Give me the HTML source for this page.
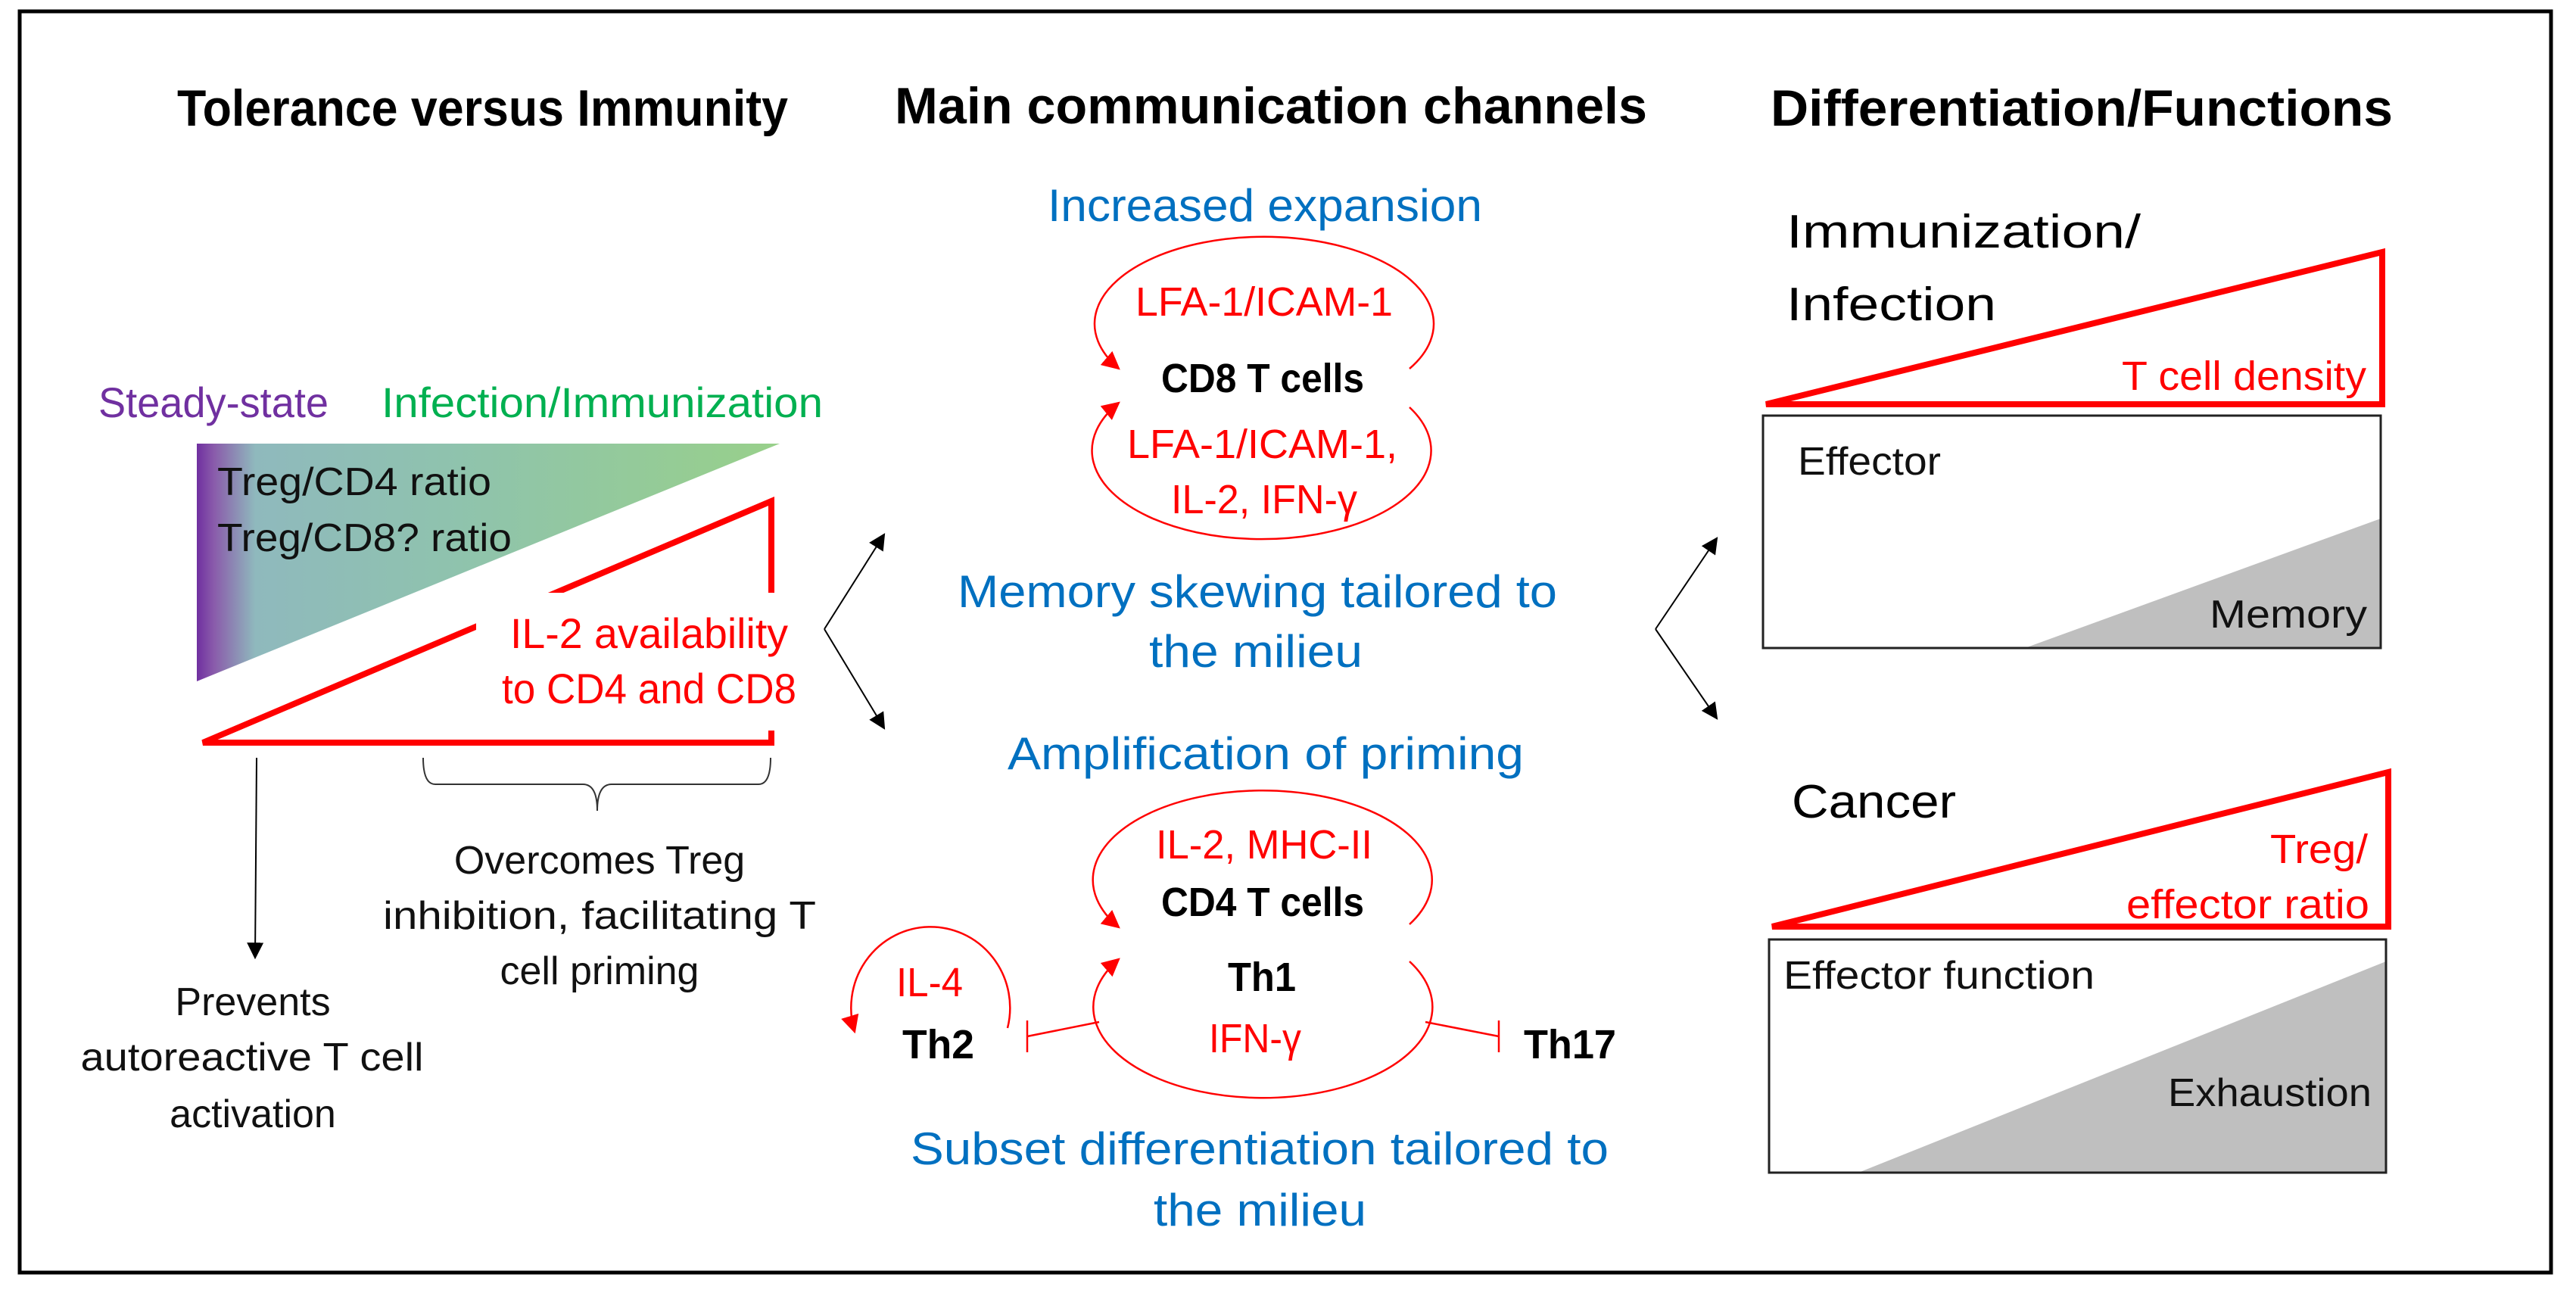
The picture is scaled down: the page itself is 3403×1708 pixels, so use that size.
<!DOCTYPE html>
<html><head><meta charset="utf-8"><style>
html,body{margin:0;padding:0;background:#fff;}
svg{display:block;}
text{font-family:"Liberation Sans",sans-serif;}
</style></head><body>
<svg width="3403" height="1708" viewBox="0 0 3403 1708" xmlns="http://www.w3.org/2000/svg">
<defs>
<linearGradient id="g" x1="260" y1="0" x2="1030" y2="0" gradientUnits="userSpaceOnUse">
<stop offset="0" stop-color="#7030a0"/>
<stop offset="0.03" stop-color="#8a5cab"/>
<stop offset="0.10" stop-color="#8fb9bd"/>
<stop offset="0.45" stop-color="#8fc3ad"/>
<stop offset="1" stop-color="#98d08a"/>
</linearGradient>
<marker id="ak" viewBox="0 0 10 10" refX="9" refY="5" markerWidth="22" markerHeight="22" orient="auto" markerUnits="userSpaceOnUse"><path d="M0,0 L10,5 L0,10 z" fill="#000"/></marker>
<marker id="ar" viewBox="0 0 10 10" refX="9" refY="5" markerWidth="24" markerHeight="24" orient="auto" markerUnits="userSpaceOnUse"><path d="M0,0 L10,5 L0,10 z" fill="#ff0000"/></marker>
</defs>

<rect x="26" y="15" width="3344" height="1666" fill="none" stroke="#000" stroke-width="5"/>

<g font-weight="bold" font-size="68" fill="#000">
<text x="234" y="166" textLength="807" lengthAdjust="spacingAndGlyphs">Tolerance versus Immunity</text>
<text x="1182" y="163" textLength="994" lengthAdjust="spacingAndGlyphs">Main communication channels</text>
<text x="2339" y="166" textLength="822" lengthAdjust="spacingAndGlyphs">Differentiation/Functions</text>
</g>

<text x="130" y="551" font-size="56" fill="#7030a0" textLength="304" lengthAdjust="spacingAndGlyphs">Steady-state</text>
<text x="504" y="551" font-size="56" fill="#00b050" textLength="583" lengthAdjust="spacingAndGlyphs">Infection/Immunization</text>
<polygon points="260,586 1030,586 260,900" fill="url(#g)"/>
<text x="287" y="654" font-size="52" fill="#111" textLength="362" lengthAdjust="spacingAndGlyphs">Treg/CD4 ratio</text>
<text x="287" y="728" font-size="52" fill="#111" textLength="389" lengthAdjust="spacingAndGlyphs">Treg/CD8? ratio</text>
<polygon points="268,981 1019,981 1019,662" fill="none" stroke="#ff0000" stroke-width="8"/>
<rect x="629" y="783" width="404" height="182" fill="#fff"/>
<text x="674" y="856" font-size="56" fill="#ff0000" textLength="367" lengthAdjust="spacingAndGlyphs">IL-2 availability</text>
<text x="663" y="929" font-size="56" fill="#ff0000" textLength="389" lengthAdjust="spacingAndGlyphs">to CD4 and CD8</text>
<line x1="339" y1="1001" x2="337" y2="1265" stroke="#000" stroke-width="2" marker-end="url(#ak)"/>
<path d="M559,1001 Q559,1036 575,1036 L770,1036 Q789,1036 789,1071 Q789,1036 808,1036 L1002,1036 Q1018,1036 1018,1001" fill="none" stroke="#333" stroke-width="2"/>
<g font-size="52" fill="#111" text-anchor="middle">
<text x="792" y="1154">Overcomes Treg</text>
<text x="792" y="1227" textLength="572" lengthAdjust="spacingAndGlyphs">inhibition, facilitating T</text>
<text x="792" y="1300">cell priming</text>
<text x="334" y="1341">Prevents</text>
<text x="333" y="1414" textLength="453" lengthAdjust="spacingAndGlyphs">autoreactive T cell</text>
<text x="334" y="1489">activation</text>
</g>

<line x1="1089" y1="831" x2="1168" y2="706" stroke="#000" stroke-width="2" marker-end="url(#ak)"/>
<line x1="1089" y1="831" x2="1168" y2="962" stroke="#000" stroke-width="2" marker-end="url(#ak)"/>
<line x1="2187" y1="831" x2="2268" y2="711" stroke="#000" stroke-width="2" marker-end="url(#ak)"/>
<line x1="2187" y1="831" x2="2268" y2="949" stroke="#000" stroke-width="2" marker-end="url(#ak)"/>

<g font-size="60" fill="#0070c0">
<text x="1384" y="292" textLength="574" lengthAdjust="spacingAndGlyphs">Increased expansion</text>
<text x="1265" y="802" textLength="792" lengthAdjust="spacingAndGlyphs">Memory skewing tailored to</text>
<text x="1518" y="881" textLength="282" lengthAdjust="spacingAndGlyphs">the milieu</text>
<text x="1331" y="1016" textLength="682" lengthAdjust="spacingAndGlyphs">Amplification of priming</text>
<text x="1203" y="1538" textLength="922" lengthAdjust="spacingAndGlyphs">Subset differentiation tailored to</text>
<text x="1524" y="1619" textLength="281" lengthAdjust="spacingAndGlyphs">the milieu</text>
</g>
<g fill="none" stroke="#ff0000" stroke-width="2.5">
<path d="M1862,487 A224,115 0 1 0 1478,487" marker-end="url(#ar)"/>
<path d="M1862,538 A224,117 0 1 1 1478,532" marker-end="url(#ar)"/>
<path d="M1862,1221 A224,118 0 1 0 1478,1225" marker-end="url(#ar)"/>
<path d="M1862,1270 A224,120 0 1 1 1478,1267" marker-end="url(#ar)"/>
<path d="M1331,1358 A105,107 0 1 0 1129,1363" marker-end="url(#ar)"/>
<line x1="1452" y1="1350" x2="1357" y2="1369"/>
<line x1="1357" y1="1348" x2="1357" y2="1390"/>
<line x1="1883" y1="1350" x2="1980" y2="1369"/>
<line x1="1980" y1="1348" x2="1980" y2="1390"/>
</g>
<g font-size="54" fill="#ff0000">
<text x="1500" y="417" textLength="340" lengthAdjust="spacingAndGlyphs">LFA-1/ICAM-1</text>
<text x="1489" y="605" textLength="357" lengthAdjust="spacingAndGlyphs">LFA-1/ICAM-1,</text>
<text x="1547" y="678" textLength="246" lengthAdjust="spacingAndGlyphs">IL-2, IFN-γ</text>
<text x="1527" y="1134" textLength="286" lengthAdjust="spacingAndGlyphs">IL-2, MHC-II</text>
<text x="1597" y="1390" textLength="122" lengthAdjust="spacingAndGlyphs">IFN-γ</text>
<text x="1184" y="1316" textLength="88" lengthAdjust="spacingAndGlyphs">IL-4</text>
</g>
<g font-size="54" font-weight="bold" fill="#000">
<text x="1534" y="518" textLength="268" lengthAdjust="spacingAndGlyphs">CD8 T cells</text>
<text x="1534" y="1210" textLength="268" lengthAdjust="spacingAndGlyphs">CD4 T cells</text>
<text x="1622" y="1309" textLength="90" lengthAdjust="spacingAndGlyphs">Th1</text>
<text x="1192" y="1398" textLength="95" lengthAdjust="spacingAndGlyphs">Th2</text>
<text x="2013" y="1398" textLength="122" lengthAdjust="spacingAndGlyphs">Th17</text>
</g>

<g font-size="62" fill="#000">
<text x="2360" y="327" textLength="468" lengthAdjust="spacingAndGlyphs">Immunization/</text>
<text x="2360" y="423" textLength="277" lengthAdjust="spacingAndGlyphs">Infection</text>
<text x="2367" y="1080" textLength="217" lengthAdjust="spacingAndGlyphs">Cancer</text>
</g>
<polygon points="2333,534 3147,534 3147,333" fill="none" stroke="#ff0000" stroke-width="8"/>
<polygon points="2341,1224 3155,1224 3155,1020" fill="none" stroke="#ff0000" stroke-width="8"/>
<g font-size="54" fill="#ff0000">
<text x="2803" y="515" textLength="323" lengthAdjust="spacingAndGlyphs">T cell density</text>
<text x="2999" y="1140" textLength="129" lengthAdjust="spacingAndGlyphs">Treg/</text>
<text x="2809" y="1213" textLength="321" lengthAdjust="spacingAndGlyphs">effector ratio</text>
</g>
<polygon points="2675,856 3145,856 3145,685" fill="#bfbfbf"/>
<rect x="2329" y="549" width="816" height="307" fill="none" stroke="#222" stroke-width="3"/>
<polygon points="2455,1549 3152,1549 3152,1270" fill="#bfbfbf"/>
<rect x="2337" y="1241" width="815" height="308" fill="none" stroke="#222" stroke-width="3"/>
<g font-size="52" fill="#111">
<text x="2375" y="627" textLength="189" lengthAdjust="spacingAndGlyphs">Effector</text>
<text x="2919" y="829" textLength="208" lengthAdjust="spacingAndGlyphs">Memory</text>
<text x="2356" y="1306" textLength="411" lengthAdjust="spacingAndGlyphs">Effector function</text>
<text x="2864" y="1461" textLength="269" lengthAdjust="spacingAndGlyphs">Exhaustion</text>
</g>
</svg>
</body></html>
